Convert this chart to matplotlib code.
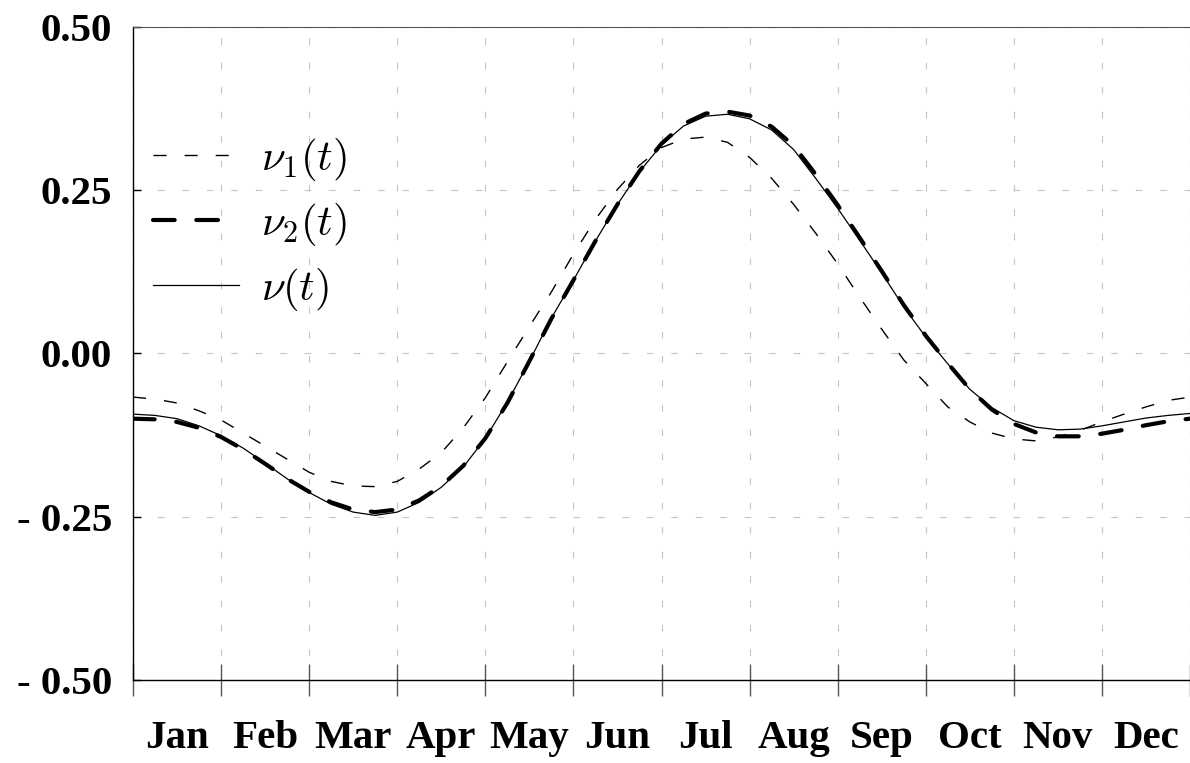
import matplotlib
matplotlib.use('Agg')
import matplotlib.pyplot as plt
from matplotlib.ticker import FixedLocator, NullFormatter, FixedFormatter

months = ['Jan', 'Feb', 'Mar', 'Apr', 'May', 'Jun',
          'Jul', 'Aug', 'Sep', 'Oct', 'Nov', 'Dec']
y_ticks = [-0.5, -0.25, 0.0, 0.25, 0.5]
y_tick_labels = ['- 0.50', '- 0.25', '0.00', '0.25', '0.50']

# time in months, quarter-month steps
t = [0.0, 0.25, 0.5, 0.75, 1.0, 1.25, 1.5, 1.75, 2.0, 2.25, 2.5, 2.75,
     3.0, 3.25, 3.5, 3.75, 4.0, 4.25, 4.5, 4.75, 5.0, 5.25, 5.5, 5.75,
     6.0, 6.25, 6.5, 6.75, 7.0, 7.25, 7.5, 7.75, 8.0, 8.25, 8.5, 8.75,
     9.0, 9.25, 9.5, 9.75, 10.0, 10.25, 10.5, 10.75, 11.0, 11.25, 11.5,
     11.75, 12.0]

nu1 = [-0.067, -0.070, -0.076, -0.088, -0.102, -0.122, -0.142, -0.162,
       -0.182, -0.196, -0.203, -0.204, -0.196, -0.177, -0.152, -0.114,
       -0.068, -0.013, 0.041, 0.094, 0.152, 0.205, 0.251, 0.288,
       0.315, 0.328, 0.331, 0.323, 0.300, 0.268, 0.228, 0.184,
       0.137, 0.086, 0.037, -0.010, -0.046, -0.082, -0.105, -0.122,
       -0.131, -0.134, -0.128, -0.118, -0.105, -0.093, -0.082, -0.072,
       -0.067]

nu2 = [-0.100, -0.101, -0.105, -0.114, -0.128, -0.147, -0.169, -0.192,
       -0.212, -0.228, -0.239, -0.243, -0.239, -0.225, -0.203, -0.172,
       -0.130, -0.076, -0.012, 0.053, 0.112, 0.172, 0.228, 0.279,
       0.321, 0.351, 0.367, 0.370, 0.364, 0.347, 0.318, 0.274,
       0.227, 0.177, 0.126, 0.074, 0.027, -0.015, -0.055, -0.086,
       -0.108, -0.121, -0.127, -0.127, -0.123, -0.117, -0.110, -0.104,
       -0.100]

nu = [-0.093, -0.095, -0.100, -0.111, -0.126, -0.145, -0.168, -0.192,
      -0.213, -0.231, -0.243, -0.248, -0.243, -0.228, -0.205, -0.174,
      -0.130, -0.075, -0.012, 0.054, 0.112, 0.172, 0.228, 0.278,
      0.319, 0.348, 0.363, 0.366, 0.359, 0.342, 0.312, 0.268,
      0.222, 0.173, 0.123, 0.071, 0.025, -0.016, -0.055, -0.083,
      -0.103, -0.113, -0.117, -0.116, -0.111, -0.105, -0.099, -0.095,
      -0.092]

plt.rcParams['mathtext.fontset'] = 'cm'

fig = plt.figure(figsize=(11.9, 7.63), dpi=100)
ax = fig.add_axes([133 / 1190, 83 / 763, 1057 / 1190, 653.3 / 763])

ax.plot(t, nu1, color='black', lw=1.0, linestyle=(0, (9.4, 13)),
        label=r'$\nu_1(t)$')
ax.plot(t, nu2, color='black', lw=3.0, linestyle=(0, (5.2, 5.2)),
        dash_capstyle='round', label=r'$\nu_2(t)$')
ax.plot(t, nu, color='black', lw=0.9, label=r'$\nu(t)$')

ax.set_xlim(0, 12)
ax.set_ylim(-0.5, 0.5)

ax.xaxis.set_major_locator(FixedLocator(range(13)))
ax.xaxis.set_major_formatter(NullFormatter())
ax.xaxis.set_minor_locator(FixedLocator([m + 0.5 for m in range(12)]))
ax.xaxis.set_minor_formatter(FixedFormatter(months))
ax.set_yticks(y_ticks)
ax.set_yticklabels(y_tick_labels)

ax.tick_params(axis='x', which='major', direction='inout', length=23,
               width=1, color='#555555')
ax.tick_params(axis='x', which='minor', length=0, pad=29)
ax.tick_params(axis='y', direction='in', length=6, width=1, pad=15)
for lab in ax.get_xticklabels(minor=True) + ax.get_yticklabels():
    lab.set_fontfamily('Liberation Serif')
    lab.set_fontweight('bold')
    lab.set_fontsize(29.5)

ax.grid(True, which='major', color='#c4c4c4', lw=0.8,
        linestyle=(0, (6, 16)))
ax.spines['right'].set_visible(False)
ax.spines['top'].set_color('#555555')
for s in ['left', 'bottom']:
    ax.spines[s].set_linewidth(1.0)

ax.legend(loc='center left', bbox_to_anchor=(0.019, 0.697), frameon=False,
          fontsize=31, handlelength=2.0, handletextpad=0.5,
          labelspacing=0.42, borderpad=0, borderaxespad=0)

fig.savefig('out.png', dpi=100)
